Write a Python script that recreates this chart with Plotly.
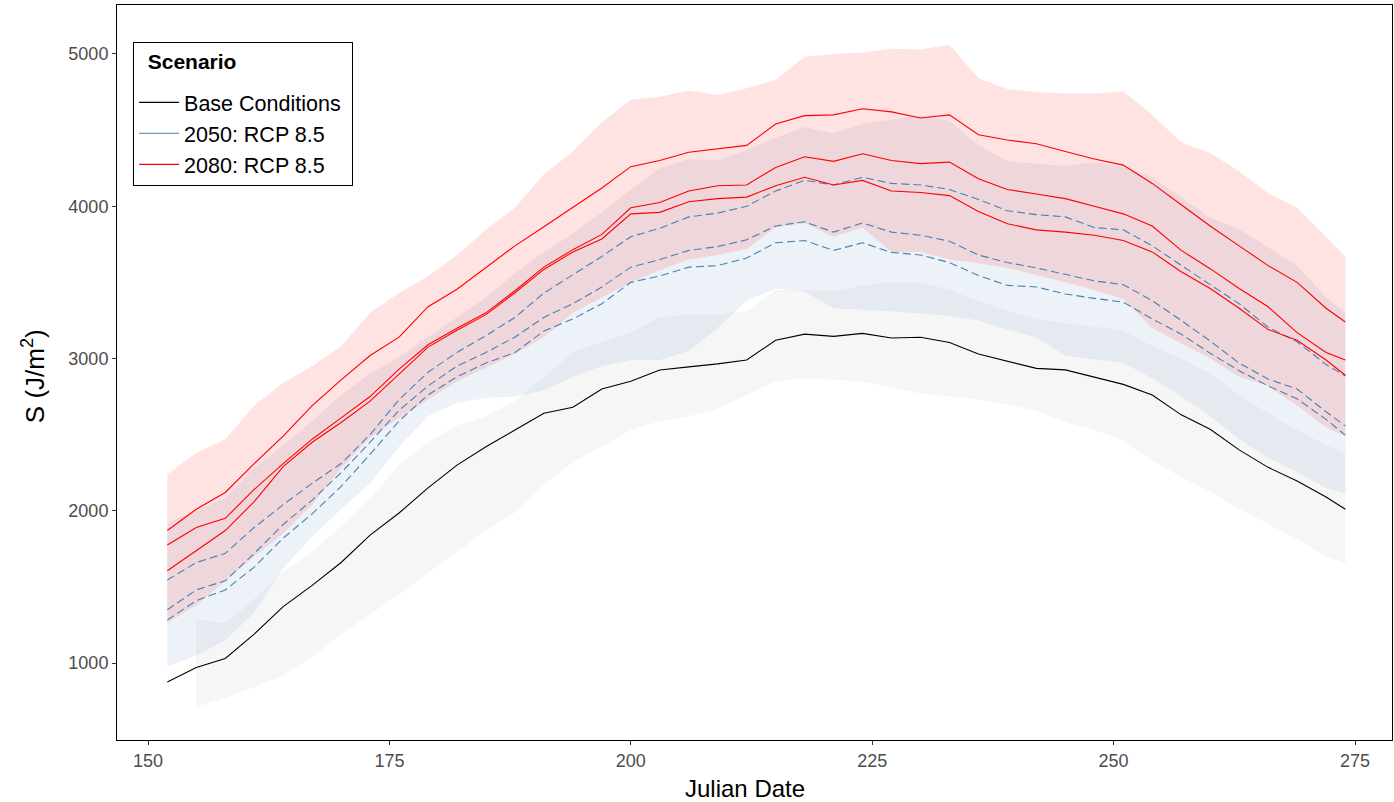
import plotly.graph_objects as go

# Julian dates sampled for every series
days = [152, 155, 158, 161, 164, 167, 170, 173, 176, 179, 182, 185, 188, 191,
        194, 197, 200, 203, 206, 209, 212, 215, 218, 221, 224, 227, 230, 233,
        236, 239, 242, 245, 248, 251, 254, 257, 260, 263, 266, 269, 272, 274]
# the base-condition envelope begins a few days later
base_band_days = days[1:]

# Base conditions: central line and envelope
base_line = [875, 970, 1030, 1190, 1370, 1510, 1660, 1840, 1985, 2150, 2300, 2420,
             2530, 2640, 2680, 2800, 2850, 2925, 2945, 2965, 2990, 3120, 3160, 3145,
             3165, 3135, 3140, 3105, 3030, 2980, 2935, 2925, 2880, 2830, 2760, 2630,
             2535, 2400, 2285, 2195, 2090, 2010]
base_hi = [1290, 1260, 1420, 1600, 1730, 1900, 2080, 2300, 2450, 2560, 2620, 2720,
           2880, 3040, 3110, 3170, 3270, 3290, 3290, 3310, 3450, 3450, 3440, 3480,
           3500, 3500, 3450, 3380, 3310, 3260, 3230, 3210, 3180, 3080, 3000, 2900,
           2760, 2640, 2530, 2430, 2377]
base_lo = [713, 770, 840, 920, 1040, 1190, 1320, 1450, 1590, 1730, 1870, 1990,
           2170, 2320, 2420, 2530, 2590, 2620, 2670, 2760, 2850, 2870, 2860, 2850,
           2810, 2770, 2750, 2730, 2700, 2655, 2585, 2530, 2460, 2330, 2220, 2125,
           2010, 1910, 1815, 1700, 1655]

# 2050: RCP 8.5 -- three projections and envelope
rcp2050_a = [1545, 1660, 1720, 1890, 2040, 2180, 2310, 2500, 2730, 2910, 3040, 3150,
             3270, 3430, 3550, 3670, 3800, 3855, 3930, 3955, 4000, 4100, 4170, 4140,
             4190, 4150, 4140, 4110, 4045, 3970, 3945, 3930, 3860, 3845, 3740, 3610,
             3485, 3360, 3205, 3110, 2960, 2885]
rcp2050_b = [1350, 1480, 1540, 1720, 1910, 2070, 2250, 2450, 2660, 2820, 2950, 3040,
             3140, 3270, 3360, 3470, 3600, 3650, 3710, 3735, 3780, 3870, 3898, 3830,
             3890, 3830, 3810, 3770, 3680, 3630, 3595, 3550, 3510, 3485, 3380, 3250,
             3115, 2970, 2865, 2800, 2650, 2557]
rcp2050_c = [1282, 1410, 1480, 1630, 1820, 1980, 2160, 2370, 2590, 2760, 2880, 2970,
             3040, 3180, 3260, 3360, 3500, 3542, 3600, 3610, 3660, 3760, 3775, 3710,
             3760, 3697, 3680, 3630, 3545, 3480, 3470, 3424, 3395, 3370, 3260, 3160,
             3035, 2920, 2820, 2735, 2600, 2497]
rcp2050_hi = [1920, 2000, 2080, 2280, 2430, 2590, 2760, 2900, 3010, 3140, 3270, 3400,
              3560, 3700, 3820, 3960, 4110, 4250, 4310, 4300, 4370, 4450, 4520, 4480,
              4540, 4570, 4600, 4560, 4400, 4295, 4280, 4265, 4290, 4260, 4190, 4060,
              3925, 3850, 3730, 3610, 3400, 3297]
rcp2050_lo = [976, 1050, 1150, 1330, 1620, 1830, 2010, 2180, 2420, 2620, 2710, 2740,
              2750, 2790, 2880, 2950, 2990, 2990, 3050, 3200, 3380, 3460, 3440, 3330,
              3320, 3310, 3295, 3280, 3250, 3190, 3140, 3020, 2995, 2970, 2870, 2750,
              2620, 2470, 2350, 2255, 2150, 2114]

# 2080: RCP 8.5 -- three projections and envelope
rcp2080_a = [1870, 2010, 2120, 2310, 2490, 2690, 2860, 3020, 3140, 3340, 3455, 3600,
             3740, 3865, 3995, 4120, 4260, 4300, 4355, 4375, 4400, 4540, 4595, 4600,
             4640, 4620, 4580, 4600, 4470, 4435, 4410, 4360, 4310, 4270, 4150, 4010,
             3870, 3740, 3610, 3500, 3330, 3240]
rcp2080_b = [1775, 1890, 1950, 2140, 2310, 2470, 2610, 2750, 2930, 3090, 3198, 3300,
             3445, 3600, 3715, 3815, 3990, 4024, 4100, 4135, 4140, 4255, 4325, 4295,
             4345, 4300, 4280, 4290, 4180, 4110, 4080, 4050, 4000, 3950, 3870, 3710,
             3590, 3460, 3340, 3170, 3040, 2990]
rcp2080_c = [1606, 1740, 1870, 2060, 2290, 2450, 2580, 2720, 2900, 3075, 3185, 3288,
             3432, 3585, 3700, 3785, 3950, 3960, 4030, 4050, 4060, 4135, 4190, 4140,
             4170, 4100, 4090, 4070, 3965, 3885, 3845, 3830, 3810, 3775, 3700, 3570,
             3460, 3330, 3190, 3120, 2990, 2890]
rcp2080_hi = [2240, 2380, 2470, 2690, 2840, 2950, 3080, 3300, 3430, 3540, 3680, 3845,
              3990, 4210, 4360, 4550, 4700, 4720, 4760, 4730, 4775, 4830, 4982, 5000,
              5010, 5035, 5030, 5060, 4840, 4770, 4750, 4740, 4740, 4755, 4600, 4420,
              4350, 4230, 4085, 3990, 3800, 3669]
rcp2080_lo = [1265, 1380, 1540, 1700, 1850, 2040, 2280, 2480, 2610, 2730, 2850, 2940,
              3030, 3140, 3300, 3400, 3500, 3580, 3650, 3680, 3720, 3860, 3890, 3800,
              3860, 3700, 3700, 3650, 3625, 3595, 3545, 3500, 3450, 3390, 3200, 3100,
              3000, 2880, 2820, 2690, 2550, 2486]

scenario_names = ["Base Conditions", "2050: RCP 8.5", "2080: RCP 8.5"]
x_ticks = [150, 175, 200, 225, 250, 275]
y_ticks = [1000, 2000, 3000, 4000, 5000]

FONT = "Liberation Sans, Arial, sans-serif"
BLACK = "#000000"
STEEL = "#4682B4"
RED = "#FF0000"

fig = go.Figure()


def band(x, hi, lo, color):
    fig.add_trace(go.Scatter(
        x=list(x) + list(x)[::-1], y=list(hi) + list(lo)[::-1],
        fill="toself", fillcolor=color, line=dict(width=0),
        mode="lines", hoverinfo="skip", showlegend=False))


band(base_band_days, base_hi, base_lo, "rgba(127,127,127,0.07)")
band(days, rcp2050_hi, rcp2050_lo, "rgba(70,130,180,0.10)")
band(days, rcp2080_hi, rcp2080_lo, "rgba(255,0,0,0.115)")


def line(y, color, dash="solid"):
    fig.add_trace(go.Scatter(
        x=days, y=y, mode="lines", showlegend=False,
        line=dict(color=color, width=1.1, dash=dash)))


line(base_line, BLACK)
for s in (rcp2050_a, rcp2050_b, rcp2050_c):
    line(s, STEEL, dash="8px,4px")
for s in (rcp2080_a, rcp2080_b, rcp2080_c):
    line(s, RED)

# legend keys (solid swatches for each scenario), one group per scenario
legend_labels = [n + "\u00a0" for n in scenario_names]
for name, color in zip(legend_labels, [BLACK, "rgba(70,130,180,0.8)", RED]):
    fig.add_trace(go.Scatter(x=[None], y=[None], mode="lines", name=name,
                             legendgroup=name,
                             line=dict(color=color, width=1.2)))

axis_common = dict(
    showgrid=False, zeroline=False, showline=True, linecolor="black",
    linewidth=1, mirror=True, ticks="outside", ticklen=4, tickwidth=1,
    tickcolor="#333333",
    tickfont=dict(family=FONT, size=18, color="#4D4D4D"),
)

fig.update_layout(
    width=1394, height=802,
    margin=dict(l=117, r=2, t=5, b=62),
    paper_bgcolor="white", plot_bgcolor="white",
    font=dict(family=FONT, color="black"),
    xaxis=dict(range=[146.79, 278.83], tickvals=x_ticks, **axis_common),
    yaxis=dict(range=[494.3, 5321.8], tickvals=y_ticks, **axis_common),
    legend=dict(
        x=0.0126, y=0.9497, xanchor="left", yanchor="top",
        bgcolor="white", bordercolor="black", borderwidth=1,
        font=dict(family=FONT, size=21.5, color="black"),
        itemwidth=40, tracegroupgap=0, traceorder="grouped",
        # a tall title line (raised text) leaves a gap above the first entry
        title=dict(text="<sup>\u00a0\u00a0<b>Scenario</b></sup>",
                   font=dict(family=FONT, size=30)),
    ),
    annotations=[
        dict(text="Julian Date", xref="paper", yref="paper", x=0.4925, y=0,
             yshift=-48, showarrow=False, yanchor="middle",
             font=dict(family=FONT, size=24, color="black")),
        dict(text="S (J/m<sup>2</sup>)", xref="paper", yref="paper", x=0, y=0.495,
             xshift=-84, showarrow=False, textangle=-90, xanchor="center",
             yanchor="middle", font=dict(family=FONT, size=26, color="black")),
    ],
)

fig.write_html("out.html")
